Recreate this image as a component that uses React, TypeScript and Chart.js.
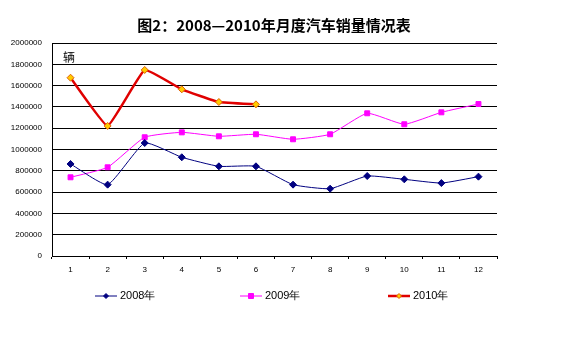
import React, { useEffect, useRef } from "react";
import { Chart, registerables } from "chart.js";

Chart.register(...registerables);

const months = ["1", "2", "3", "4", "5", "6", "7", "8", "9", "10", "11", "12"];
const sales2008 = [864000, 670000, 1061000, 927000, 842000, 842000, 670000, 632000, 751000, 720000, 685000, 745000];
const sales2009 = [739000, 833000, 1115000, 1161000, 1124000, 1143000, 1096000, 1143000, 1340000, 1237000, 1349000, 1427000];
const sales2010 = [1674000, 1221000, 1747000, 1565000, 1446000, 1424000];
const titleText = "图2：2008—2010年月度汽车销量情况表";
const unitText = "辆";
const legendXs = [95, 240, 388];

const overlayPlugin = {
  id: "overlay",
  afterDraw(chart: any) {
    const ctx = chart.ctx;
    ctx.save();
    ctx.fillStyle = "#000";
    ctx.font = "bold 15px 'Noto Sans CJK SC'";
    ctx.textAlign = "center";
    ctx.textBaseline = "middle";
    ctx.fillText(titleText, 274, 25);
    ctx.font = "12px 'Noto Sans CJK SC'";
    ctx.textAlign = "left";
    ctx.fillText(unitText, 63, 57);
    chart.data.datasets.forEach((ds: any, i: number) => {
      const x0 = legendXs[i];
      const y = 296;
      ctx.strokeStyle = ds.borderColor;
      ctx.lineWidth = ds.borderWidth;
      ctx.beginPath();
      ctx.moveTo(x0, y);
      ctx.lineTo(x0 + 22, y);
      ctx.stroke();
      ctx.fillStyle = ds.pointBackgroundColor;
      ctx.strokeStyle = ds.pointBorderColor;
      ctx.lineWidth = 1;
      const r = 2.5;
      const cx = x0 + 11;
      ctx.beginPath();
      if (ds.pointStyle === "rect") {
        ctx.rect(cx - r, y - r, 2 * r, 2 * r);
      } else {
        ctx.moveTo(cx, y - r);
        ctx.lineTo(cx + r, y);
        ctx.lineTo(cx, y + r);
        ctx.lineTo(cx - r, y);
        ctx.closePath();
      }
      ctx.fill();
      ctx.stroke();
      ctx.fillStyle = "#000";
      ctx.font = "11px 'Liberation Sans', Arial, sans-serif";
      ctx.textAlign = "left";
      ctx.textBaseline = "middle";
      ctx.fillText(ds.label, x0 + 25, y);
    });
    ctx.restore();
  },
};

export default function App() {
  const ref = useRef<HTMLCanvasElement>(null);
  useEffect(() => {
    const chart = new Chart(ref.current!, {
      type: "line",
      data: {
        labels: months,
        datasets: [
          {
            label: "2008年",
            data: sales2008,
            borderColor: "#000080",
            borderWidth: 1,
            pointStyle: "rectRot",
            pointRadius: 3.5,
            pointBackgroundColor: "#000080",
            pointBorderColor: "#000080",
            tension: 0.15,
          },
          {
            label: "2009年",
            data: sales2009,
            borderColor: "#FF00FF",
            borderWidth: 1,
            pointStyle: "rect",
            pointRadius: 3.5,
            pointBackgroundColor: "#FF00FF",
            pointBorderColor: "#FF00FF",
            tension: 0.15,
          },
          {
            label: "2010年",
            data: sales2010,
            borderColor: "#E00000",
            borderWidth: 2.5,
            pointStyle: "rectRot",
            pointRadius: 3.5,
            pointBackgroundColor: "#FFCC00",
            pointBorderColor: "#E06000",
            pointBorderWidth: 1,
            tension: 0.1,
          },
        ] as any,
      },
      options: {
        animation: false,
        responsive: false,
        layout: { padding: { left: 0, right: 88, top: 43, bottom: 0 } },
        plugins: { legend: { display: false }, tooltip: { enabled: false }, title: { display: false } },
        scales: {
          x: {
            offset: true,
            grid: { display: true, drawOnChartArea: false, offset: true, color: "#000", tickLength: 3 },
            border: { color: "#000", width: 1 },
            ticks: { color: "#000", font: { size: 8, family: "'Liberation Sans', Arial, sans-serif" }, padding: 6, maxRotation: 0 },
            afterFit: (s: any) => { s.height = 103; },
          },
          y: {
            min: 0,
            max: 2000000,
            ticks: {
              stepSize: 200000,
              color: "#000",
              font: { size: 8, family: "'Liberation Sans', Arial, sans-serif" },
              padding: 10,
              callback: (v: any) => String(v),
            },
            grid: { color: "#000", drawTicks: false, lineWidth: 1 },
            border: { color: "#000", width: 1 },
            afterFit: (s: any) => { s.width = 52; },
          },
        },
      },
      plugins: [overlayPlugin],
    });
    return () => chart.destroy();
  }, []);
  return (
    <div style={{ position: "fixed", left: 0, top: 0, width: 585, height: 359, background: "#fff" }}>
      <canvas ref={ref} width={585} height={359} />
    </div>
  );
}
